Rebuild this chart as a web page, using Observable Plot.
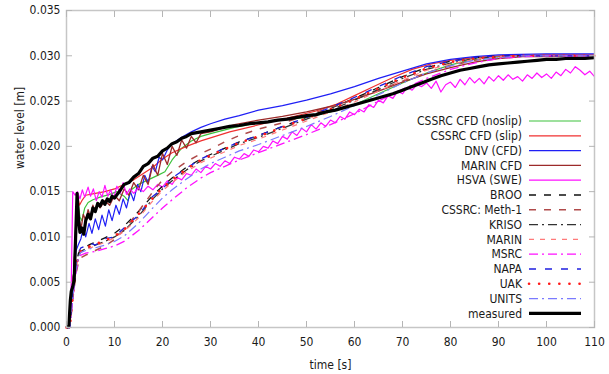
<!DOCTYPE html>
<html><head><meta charset="utf-8">
<script src="https://cdn.jsdelivr.net/npm/d3@7"></script>
<script src="https://cdn.jsdelivr.net/npm/@observablehq/plot@0.6"></script>
<style>body{margin:0;background:#fff} svg{display:block}</style>
</head><body><div id="chart"></div>
<script>
// ---------- data ----------
const xTicks = [0,10,20,30,40,50,60,70,80,90,100,110];
const yTicks = [0,0.005,0.010,0.015,0.020,0.025,0.030,0.035];
const seriesNames = ["CSSRC CFD (noslip)","CSSRC CFD (slip)","DNV (CFD)","MARIN CFD","HSVA (SWE)","BROO","CSSRC: Meth-1","KRISO","MARIN","MSRC","NAPA","UAK","UNITS","measured"];

const cssrcNoslip = [[0,0],[0.6,0],[1,0.004],[1.5,0.006],[2,0.0125],[2.4,0.014],[2.8,0.0122],[3.2,0.0118],[3.8,0.0132],[4.5,0.0138],[5.5,0.0141],[7,0.0144],[9,0.0147],[10.5,0.015],[12,0.0145],[12.8,0.014],[13.5,0.0152],[15,0.0158],[17,0.0163],[19,0.0168],[20.5,0.0172],[22,0.0185],[24,0.0198],[26,0.0206],[28,0.0211],[30,0.0214],[35,0.0221],[40,0.0226],[45,0.0229],[50,0.0232],[55,0.0238],[60,0.0246],[65,0.0258],[70,0.027],[75,0.0281],[80,0.029],[85,0.0296],[90,0.0299],[95,0.03],[100,0.03],[110,0.03]];
const cssrcSlip = [[0,0],[0.6,0],[1,0.0035],[1.5,0.006],[2,0.012],[2.3,0.0146],[2.7,0.0135],[3.2,0.014],[4,0.0146],[6,0.0148],[8,0.015],[10,0.0153],[12,0.0158],[14,0.0163],[16,0.017],[18,0.0177],[20,0.0186],[22,0.0193],[25,0.02],[28,0.0206],[31,0.0211],[34,0.0216],[52,0.0239],[56,0.0246],[60,0.0256],[64,0.0266],[68,0.0276],[72,0.0285],[76,0.0291],[80,0.0295],[85,0.0298],[90,0.03],[100,0.0301],[110,0.0301]];
const dnvCfd = [[0,0],[0.7,0],[1,0.003],[1.5,0.006],[2,0.0085],[2.5,0.0092],[3,0.0098],[3.5,0.011],[4,0.01],[4.7,0.0115],[5.3,0.0104],[6,0.012],[6.7,0.0108],[7.4,0.0124],[8.1,0.0112],[8.8,0.013],[9.5,0.0118],[10.3,0.0135],[11,0.0125],[11.8,0.0142],[12.5,0.0132],[13.3,0.015],[14,0.014],[14.8,0.0158],[15.5,0.015],[16.3,0.0168],[17,0.016],[17.8,0.0178],[18.5,0.0172],[19.3,0.0188],[20,0.0185],[21,0.0196],[22,0.0203],[24,0.021],[26,0.0216],[28,0.0221],[30,0.0225],[33,0.023],[36,0.0234],[40,0.024],[45,0.0245],[50,0.0251],[55,0.0258],[60,0.0266],[65,0.0275],[70,0.0283],[75,0.0291],[80,0.0296],[85,0.0299],[90,0.0301],[100,0.0302],[110,0.0302]];
const marinCfd = [[0,0],[0.6,0],[1,0.004],[1.5,0.006],[2,0.011],[2.3,0.014],[2.7,0.0118],[3,0.0108],[3.5,0.0125],[4,0.0118],[4.5,0.013],[5,0.0122],[5.5,0.0135],[6,0.0128],[6.5,0.0138],[7,0.0132],[8,0.014],[9,0.0135],[10,0.0146],[11,0.014],[12,0.0153],[13,0.0146],[14,0.016],[15,0.0152],[16,0.0168],[17,0.0158],[18,0.018],[19,0.0168],[20,0.0192],[21,0.018],[22,0.02],[23,0.019],[24,0.0207],[25,0.0198],[26,0.0211],[27,0.0204],[28,0.0214],[30,0.0216],[35,0.0224],[40,0.0229],[45,0.0233],[50,0.0238],[55,0.0244],[60,0.0252],[65,0.0261],[70,0.0271],[75,0.028],[80,0.0287],[85,0.0293],[90,0.0297],[95,0.0299],[100,0.0299],[110,0.03]];
const hsvaSwe = [[0,0],[0.6,0],[1,0.005],[1.3,0.015],[1.8,0.0146],[2.3,0.015],[2.8,0.0142],[3.3,0.0152],[3.8,0.0144],[4.5,0.0155],[5,0.0145],[5.6,0.0153],[6.2,0.014],[6.8,0.015],[7.4,0.0144],[8,0.0157],[8.6,0.0145],[9.2,0.0152],[9.8,0.0142],[10.5,0.0156],[11.2,0.0148],[11.8,0.016],[12.5,0.0147],[13.2,0.0153],[14,0.0148],[15,0.0154],[16,0.015],[17,0.0156],[18,0.0152],[19,0.0158],[20,0.0155],[21,0.0162],[22,0.0158],[23,0.0166],[24,0.0163],[25,0.017],[26,0.0168],[27,0.0175],[28,0.0171],[29,0.0178],[30,0.0175],[31,0.0181],[32,0.0178],[33,0.0184],[34,0.0181],[35,0.0188],[36,0.0186],[37,0.0192],[38,0.0189],[39,0.0196],[40,0.0194],[41,0.02],[42,0.0198],[43,0.0206],[44,0.0203],[45,0.0211],[46,0.0208],[47,0.0216],[48,0.0212],[49,0.022],[50,0.0216],[51,0.0224],[52,0.0219],[53,0.0226],[54,0.0222],[55,0.0229],[56,0.0226],[57,0.0233],[58,0.023],[59,0.0238],[60,0.0235],[61,0.0241],[62,0.0238],[63,0.0246],[64,0.0243],[65,0.0251],[66,0.0248],[67,0.0256],[68,0.0253],[69,0.0261],[70,0.0258],[71,0.0265],[72,0.0262],[73,0.0268],[74,0.0266],[75,0.027],[76,0.0264],[77,0.0272],[78,0.026],[79,0.0268],[80,0.0271],[81,0.0265],[82,0.0274],[83,0.0268],[84,0.0276],[85,0.027],[86,0.0275],[87,0.0269],[88,0.0277],[89,0.0272],[90,0.0278],[91,0.0273],[92,0.0279],[93,0.0274],[94,0.0277],[95,0.0272],[96,0.0279],[97,0.0275],[98,0.0281],[99,0.0276],[100,0.028],[101,0.0275],[102,0.0282],[103,0.0278],[104,0.0285],[105,0.0281],[106,0.0288],[107,0.0284],[108,0.0279],[109,0.0283],[110,0.0277]];
const measured = [[0,0],[0.5,0.0002],[0.8,0.003],[1,0.004],[1.3,0.0045],[1.6,0.0052],[1.9,0.01],[2.2,0.0148],[2.5,0.012],[2.8,0.0105],[3.2,0.011],[3.6,0.0103],[4,0.0118],[4.5,0.0125],[5,0.012],[5.5,0.0132],[6,0.0128],[6.5,0.0137],[7,0.0134],[7.5,0.014],[8,0.0136],[8.5,0.0142],[9,0.0139],[9.5,0.0145],[10,0.0143],[11,0.015],[12,0.0158],[13,0.016],[14,0.0166],[15,0.017],[16,0.0178],[17,0.0181],[18,0.0187],[19,0.0189],[20,0.0195],[21,0.0198],[22,0.0203],[23,0.0205],[24,0.0209],[25,0.0211],[26,0.0214],[28,0.0216],[30,0.0218],[32,0.022],[34,0.0222],[36,0.0223],[38,0.0225],[40,0.0226],[42,0.0227],[44,0.0229],[46,0.023],[48,0.0232],[50,0.0234],[52,0.0235],[54,0.0238],[56,0.024],[58,0.0243],[60,0.0246],[62,0.0249],[64,0.0252],[66,0.0255],[68,0.0258],[70,0.0262],[72,0.0266],[74,0.027],[76,0.0274],[78,0.0278],[80,0.0281],[82,0.0284],[84,0.0286],[86,0.0288],[88,0.029],[90,0.0291],[92,0.0292],[94,0.0293],[96,0.0294],[98,0.0295],[100,0.0296],[102,0.0296],[104,0.0297],[106,0.0297],[108,0.0297],[110,0.0298]];

// shared time grid of the potential-flow / method results
const tLow = [0,0.7,1,1.5,2,2.5,3,4,5,6,8,10,12,15,18,20,22,25,28,30,33,36,40,45,50,55,60,65,70,75,80,85,90,95,100,110];
const broo   = [0,0,0.002,0.0046,0.007,0.0082,0.0086,0.0089,0.0092,0.0094,0.0099,0.0104,0.0112,0.0128,0.0146,0.0156,0.0165,0.0177,0.0186,0.0191,0.0198,0.0205,0.0212,0.0222,0.0232,0.0242,0.0253,0.0265,0.0277,0.0287,0.0294,0.0298,0.03,0.03,0.03,0.03];
const cssrcMeth1 = [0,0,0.0015,0.004,0.006,0.0072,0.0077,0.008,0.0082,0.0085,0.009,0.0097,0.0108,0.0128,0.015,0.0163,0.0172,0.0183,0.0192,0.0197,0.0205,0.0212,0.0219,0.0226,0.0234,0.0243,0.0252,0.0262,0.0272,0.0281,0.0289,0.0295,0.0298,0.03,0.03,0.03];
const kriso  = [0,0,0.0018,0.0044,0.0066,0.0079,0.0084,0.0087,0.0089,0.0091,0.0095,0.01,0.0107,0.0123,0.0142,0.0153,0.0162,0.0174,0.0184,0.0189,0.0196,0.0203,0.021,0.022,0.023,0.024,0.0251,0.0263,0.0275,0.0285,0.0292,0.0297,0.0299,0.03,0.03,0.03];
const marin  = [0,0,0.0019,0.0043,0.0065,0.0078,0.0083,0.0086,0.0088,0.009,0.0094,0.0099,0.0106,0.0121,0.014,0.0151,0.016,0.0172,0.0182,0.0187,0.0194,0.0201,0.0208,0.0218,0.0228,0.0238,0.0249,0.0261,0.0273,0.0284,0.0291,0.0296,0.0299,0.03,0.03,0.03];
const msrc   = [0,0,0.0016,0.004,0.0062,0.0075,0.008,0.0082,0.0083,0.0084,0.0087,0.009,0.0095,0.0107,0.0122,0.0132,0.0141,0.0154,0.0165,0.0171,0.0178,0.0185,0.0193,0.0203,0.0213,0.0224,0.0236,0.025,0.0263,0.0275,0.0285,0.0292,0.0297,0.0299,0.03,0.03];
const napa   = [0,0,0.002,0.0048,0.0072,0.0083,0.0088,0.009,0.0093,0.0091,0.0098,0.01,0.011,0.0124,0.0145,0.0153,0.0165,0.0176,0.0186,0.0191,0.0198,0.0205,0.0212,0.0222,0.0232,0.0243,0.0254,0.0266,0.0278,0.0288,0.0294,0.0298,0.03,0.03,0.03,0.03];
const uak    = [0,0,0.002,0.0045,0.0068,0.008,0.0085,0.0088,0.009,0.0092,0.0096,0.0101,0.0108,0.0125,0.0143,0.0154,0.0163,0.0175,0.0185,0.019,0.0197,0.0204,0.0211,0.0221,0.0231,0.0241,0.0252,0.0264,0.0276,0.0286,0.0293,0.0297,0.0299,0.03,0.03,0.03];
const units  = [0,0,0.0018,0.0042,0.0064,0.0078,0.0083,0.0085,0.0087,0.0088,0.0091,0.0095,0.0101,0.0115,0.0132,0.0143,0.0152,0.0164,0.0175,0.0181,0.0188,0.0195,0.0202,0.0212,0.0222,0.0233,0.0245,0.0257,0.027,0.0281,0.0289,0.0295,0.0298,0.03,0.03,0.03];

// ---------- styles ----------
const styles = {
  "CSSRC CFD (noslip)": {stroke:"#3cc23c", w:1.2, dash:null},
  "CSSRC CFD (slip)":   {stroke:"#f03030", w:1.2, dash:null},
  "DNV (CFD)":          {stroke:"#1f1ff5", w:1.2, dash:null},
  "MARIN CFD":          {stroke:"#9c2a2a", w:1.3, dash:null},
  "HSVA (SWE)":         {stroke:"#ff10ff", w:1.2, dash:null},
  "BROO":               {stroke:"#111111", w:1.3, dash:"7,8"},
  "CSSRC: Meth-1":      {stroke:"#b04a4a", w:1.5, dash:"7,8"},
  "KRISO":              {stroke:"#333333", w:1.3, dash:"9,4,2,4"},
  "MARIN":              {stroke:"#ff7a7a", w:1.2, dash:"5,6"},
  "MSRC":               {stroke:"#ff10ff", w:1.3, dash:"9,4,2,4"},
  "NAPA":               {stroke:"#1f1fe0", w:1.3, dash:"7,9"},
  "UAK":                {stroke:"#ff1a1a", w:2.6, dash:"0.1,10", cap:"round"},
  "UNITS":              {stroke:"#7a7aff", w:1.2, dash:"9,4,2,4"},
  "measured":           {stroke:"#000000", w:3.2, dash:null}
};

const pairs = (arr) => arr.map(([t, v]) => ({t, v}));
const grid = (vals) => vals.map((v, i) => ({t: tLow[i], v}));
const seriesData = {
  "CSSRC CFD (noslip)": pairs(cssrcNoslip),
  "CSSRC CFD (slip)": pairs(cssrcSlip),
  "DNV (CFD)": pairs(dnvCfd),
  "MARIN CFD": pairs(marinCfd),
  "HSVA (SWE)": pairs(hsvaSwe),
  "BROO": grid(broo),
  "CSSRC: Meth-1": grid(cssrcMeth1),
  "KRISO": grid(kriso),
  "MARIN": grid(marin),
  "MSRC": grid(msrc),
  "NAPA": grid(napa),
  "UAK": grid(uak),
  "UNITS": grid(units),
  "measured": pairs(measured)
};

const FONT = "'DejaVu Sans Condensed', 'DejaVu Sans', sans-serif";
const lineMarks = seriesNames.map(name => {
  const s = styles[name];
  return Plot.line(seriesData[name], {
    x: "t", y: "v", stroke: s.stroke, strokeWidth: s.w,
    strokeDasharray: s.dash || undefined, strokeLinecap: s.cap || "butt",
    strokeLinejoin: "round"
  });
});

const chart = Plot.plot({
  width: 609, height: 374,
  marginLeft: 66, marginRight: 15, marginTop: 10, marginBottom: 47,
  style: {fontFamily: FONT, fontSize: "12px", color: "#1a1a1a", background: "#fff", overflow: "visible"},
  x: {domain: [0, 110]},
  y: {domain: [0, 0.035]},
  marks: [
    ...lineMarks,
    Plot.frame({stroke: "#c6c6c6", strokeWidth: 1.5}),
    Plot.axisX({ticks: xTicks, tickSize: -6, tickPadding: 16, label: null, stroke: "#b5b5b5", fill: "#1a1a1a", tickFormat: d => String(d)}),
    Plot.axisX({anchor: "top", ticks: xTicks, tickSize: -6, tickPadding: 0, label: null, stroke: "#b5b5b5", tickFormat: () => ""}),
    Plot.axisY({ticks: yTicks, tickSize: -6, tickPadding: 12, label: null, stroke: "#b5b5b5", fill: "#1a1a1a", tickFormat: d3.format(".3f")}),
    Plot.axisY({anchor: "right", ticks: yTicks, tickSize: -6, tickPadding: 0, label: null, stroke: "#b5b5b5", tickFormat: () => ""}),
    Plot.text(["time [s]"], {text: d => d, frameAnchor: "bottom", dy: 38, lineAnchor: "middle", fill: "#1a1a1a"}),
    Plot.text(["water level [m]"], {text: d => d, frameAnchor: "left", dx: -46, rotate: -90, fill: "#1a1a1a"})
  ]
});

// legend (inside plot, right side)
const svg = d3.select(chart);
const lg = svg.append("g").attr("font-family", FONT).attr("font-size", 12);
seriesNames.forEach((name, i) => {
  const s = styles[name];
  const y = 121 + i * 14.8;
  lg.append("text").attr("x", 522).attr("y", y).attr("dy", "0.35em")
    .attr("text-anchor", "end").attr("fill", "#1a1a1a").text(name);
  lg.append("line").attr("x1", 529).attr("x2", 581).attr("y1", y).attr("y2", y)
    .attr("stroke", s.stroke).attr("stroke-width", s.w)
    .attr("stroke-dasharray", s.dash).attr("stroke-linecap", s.cap || "butt");
});

document.getElementById("chart").appendChild(chart);
</script>
</body></html>
